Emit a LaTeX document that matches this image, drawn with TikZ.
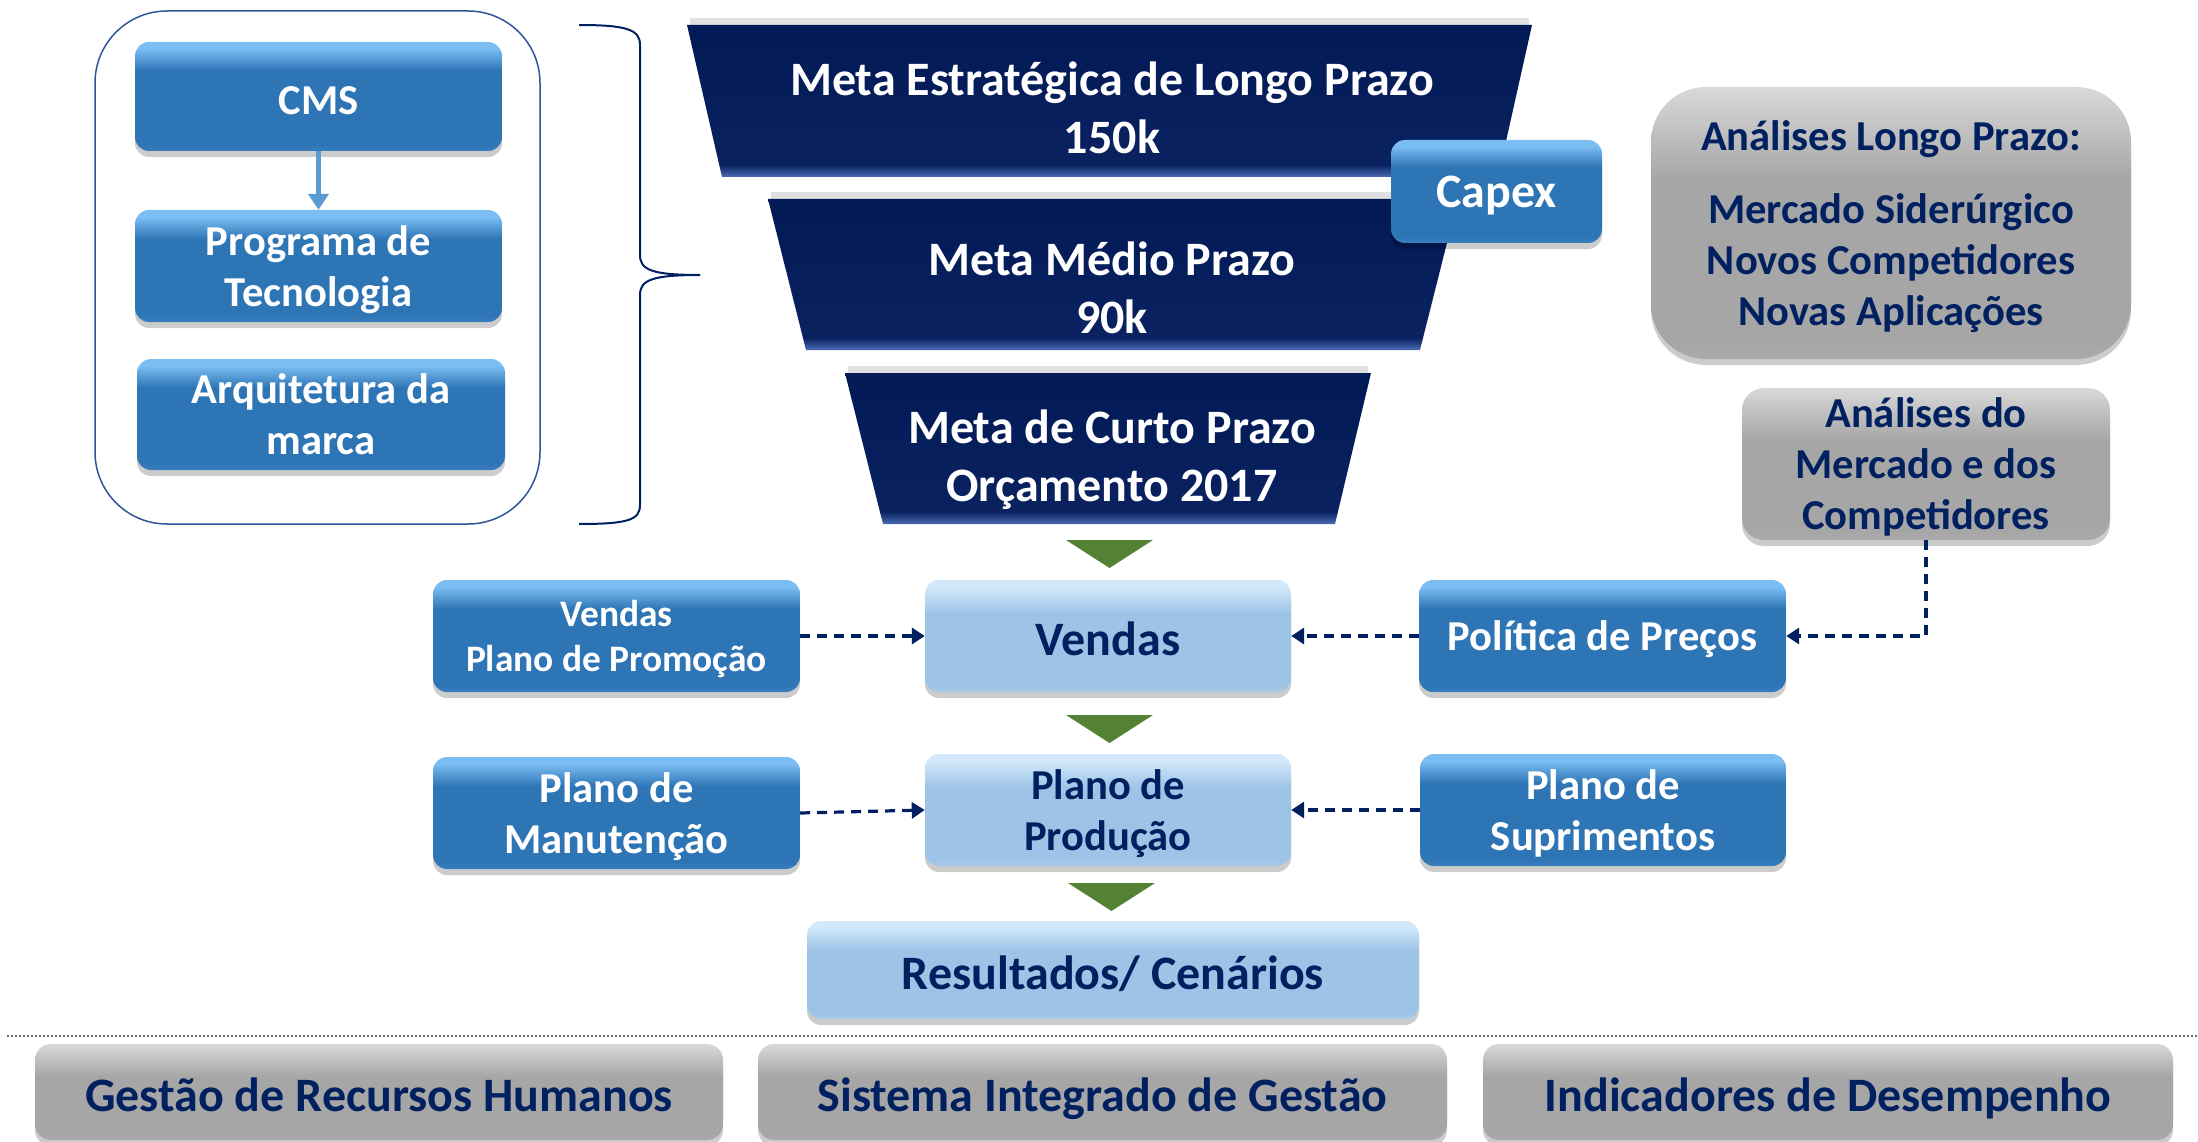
\documentclass[tikz,border=0pt]{standalone}
\usepackage{fontspec}
\setmainfont{Carlito}
\usetikzlibrary{shadows,arrows.meta}
\definecolor{navy}{HTML}{002060}
\definecolor{bTop}{HTML}{7BBEF3}
\definecolor{bBody}{HTML}{2E75B6}
\definecolor{bBot}{HTML}{3A7FC0}
\definecolor{lTop}{HTML}{D3E9FB}
\definecolor{lBody}{HTML}{9DC3E6}
\definecolor{lBot}{HTML}{A9CBEA}
\definecolor{gTop}{HTML}{D9D9D9}
\definecolor{gBody}{HTML}{A6A6A6}
\definecolor{gBot}{HTML}{ABABAB}
\definecolor{nStrip}{HTML}{4A6DB6}
\definecolor{nBody}{HTML}{0A2260}
\definecolor{nTop}{HTML}{021A56}
\definecolor{grn}{HTML}{548235}
\definecolor{frame}{HTML}{2F5597}
\definecolor{cmsarr}{HTML}{5B9BD5}
\pgfdeclareverticalshading{blueshade}{100bp}{color(0bp)=(bBot); color(25bp)=(bBot); color(28bp)=(bBody); color(62bp)=(bBody); color(72bp)=(bTop); color(75bp)=(bTop); color(100bp)=(bTop)}
\pgfdeclareverticalshading{lightshade}{100bp}{color(0bp)=(lBot); color(25bp)=(lBot); color(28bp)=(lBody); color(60bp)=(lBody); color(72bp)=(lTop); color(75bp)=(lTop); color(100bp)=(lTop)}
\pgfdeclareverticalshading{grayshade}{100bp}{color(0bp)=(gBot); color(25bp)=(gBot); color(28bp)=(gBody); color(58bp)=(gBody); color(75bp)=(gTop); color(100bp)=(gTop)}
\pgfdeclareverticalshading{navyshade}{100bp}{color(0bp)=(nStrip); color(25bp)=(nStrip); color(29bp)=(nBody); color(70bp)=(nTop); color(75bp)=(nTop); color(100bp)=(nTop)}
\newcommand\fsBig{\fontsize{48}{58}\selectfont}
\newcommand\fsMid{\fontsize{42.6}{51}\selectfont}
\newcommand\fsSmall{\fontsize{37.4}{45}\selectfont}
\begin{document}
\begin{tikzpicture}[x=1pt,y=-1pt,
  base/.style={shade, rounded corners=14pt, align=center, inner sep=0pt,
    execute at begin node={\rule{0pt}{0.84em}},
    drop shadow={shadow xshift=0pt,shadow yshift=-6pt,opacity=0.2,fill=black}},
  bluebox/.style={base, shading=blueshade, text=white, font=\bfseries\fsMid},
  lightbox/.style={base, shading=lightshade, text=navy, font=\bfseries\fsMid},
  graybox/.style={base, shading=grayshade, text=navy, font=\bfseries\fsMid},
  funnel/.style={shading=navyshade},
  funtext/.style={text=white, font=\bfseries\fsBig, align=center, inner sep=0pt},
  dasharrow/.style={draw=navy, line width=3.2pt, dash pattern=on 10pt off 7pt,
    -{Triangle[length=13pt,width=16pt]}},
  cmsarrow/.style={draw=cmsarr, line width=5pt, -{Triangle[length=16pt,width=20pt]}},
  bracestyle/.style={draw=navy, line width=2pt},
  greentri/.style={fill=grn},
]
\useasboundingbox (0,0) rectangle (2198,1142);
\clip (0,0) rectangle (2198,1142);

% left group
\node[draw=frame, line width=1.5pt, rounded corners=72pt, minimum width=445pt, minimum height=513pt] (grp) at (317.5,267.5) {};
\node[bluebox, minimum width=367pt, minimum height=109pt] (cms) at (318.5,96.5) {CMS};
\node[bluebox, text depth=-3pt, minimum width=367pt, minimum height=112pt] (prog) at (318.5,266) {Programa de\\Tecnologia};
\node[bluebox, text depth=-4pt, minimum width=368pt, minimum height=111pt] (arq) at (321,414.5) {Arquitetura da\\marca};
\draw[cmsarrow] (cms.south) -- (prog.north);

% brace
\draw[bracestyle] (579,25) .. controls (628,25) and (640,30) .. (640,45) -- (640,255) .. controls (640,270) and (652,275) .. (700,275);
\draw[bracestyle] (700,275) .. controls (652,275) and (640,280) .. (640,295) -- (640,505) .. controls (640,520) and (628,524) .. (579,524);

% funnel
\fill[black,opacity=0.12] (690,18) -- (1529,18) -- (1529,25) -- (690,25) -- cycle;
\shade[funnel] (687,25) -- (1532,25) -- (1498,177) -- (722,177) -- cycle;
\node[funtext] (f1) at (1112,108) {Meta Estratégica de Longo Prazo\\150k};
\fill[black,opacity=0.12] (771,192) -- (1455,192) -- (1455,199) -- (771,199) -- cycle;
\shade[funnel] (768,199) -- (1458,199) -- (1420,350) -- (806,350) -- cycle;
\node[funtext] (f2) at (1112,288) {Meta Médio Prazo\\90k};
\fill[black,opacity=0.12] (848,366) -- (1368,366) -- (1368,373) -- (848,373) -- cycle;
\shade[funnel] (845,373) -- (1371,373) -- (1335,524) -- (883,524) -- cycle;
\node[funtext] (f3) at (1112,460) {Meta de Curto Prazo\\Orçamento 2017};

\node[bluebox, font=\bfseries\fsBig, minimum width=211pt, minimum height=103pt] (capex) at (1496.5,191.5) {Capex};

% right analyses
\node[graybox, text depth=0pt, rounded corners=55pt, minimum width=480pt, minimum height=272pt] (alp) at (1891,223)
  {Análises Longo Prazo:\\[22pt]Mercado Siderúrgico\\Novos Competidores\\Novas Aplicações};
\node[graybox, text depth=-3pt, rounded corners=22pt, minimum width=368pt, minimum height=152pt] (amc) at (1926,464)
  {Análises do\\Mercado e dos\\Competidores};

% green triangles
\fill[greentri] (1066,540) -- (1153,540) -- (1109.5,568) -- cycle;
\fill[greentri] (1066,715) -- (1153,715) -- (1109.5,743) -- cycle;
\fill[greentri] (1068,883) -- (1155,883) -- (1111.5,911) -- cycle;

% row 1
\node[bluebox, text depth=1pt, font=\bfseries\fsSmall, minimum width=367pt, minimum height=112pt] (vpp) at (616.5,636) {Vendas\\Plano de Promoção};
\node[lightbox, font=\bfseries\fsBig, minimum width=366pt, minimum height=112pt] (vendas) at (1108,636) {Vendas};
\node[bluebox, minimum width=367pt, minimum height=112pt] (pol) at (1602.5,636) {Política de Preços};

% row 2
\node[bluebox, text depth=-2pt, minimum width=367pt, minimum height=112pt] (man) at (616.5,813) {Plano de\\Manutenção};
\node[lightbox, text depth=-2pt, minimum width=366pt, minimum height=112pt] (prod) at (1108,810) {Plano de\\Produção};
\node[bluebox, text depth=-2pt, minimum width=366pt, minimum height=112pt] (sup) at (1603,810) {Plano de\\Suprimentos};

\node[lightbox, font=\bfseries\fsBig, minimum width=612pt, minimum height=98pt] (res) at (1113,970) {Resultados/ Cenários};

% connectors
\draw[dasharrow] (vpp.east) -- (vendas.west);
\draw[dasharrow] (pol.west) -- (vendas.east);
\draw[dasharrow] (amc.south) |- (pol.east);
\draw[dasharrow] (man.east) -- (prod.west);
\draw[dasharrow] (sup.west) -- (prod.east);

% dotted separator
\coordinate (dl) at (7,1036);
\coordinate (dr) at (2198,1036);
\draw[black!55, line width=1.5pt, dash pattern=on 2pt off 2pt] (dl) -- (dr);

% bottom boxes
\node[graybox, text depth=1pt, font=\bfseries\fsBig, rounded corners=16pt, minimum width=688pt, minimum height=96pt] (rh) at (379,1092) {Gestão de Recursos Humanos};
\node[graybox, text depth=1pt, font=\bfseries\fsBig, rounded corners=16pt, minimum width=689pt, minimum height=96pt] (sig) at (1102.5,1092) {Sistema Integrado de Gestão};
\node[graybox, text depth=1pt, font=\bfseries\fsBig, rounded corners=16pt, minimum width=690pt, minimum height=96pt] (ind) at (1828,1092) {Indicadores de Desempenho};
\end{tikzpicture}
\end{document}
